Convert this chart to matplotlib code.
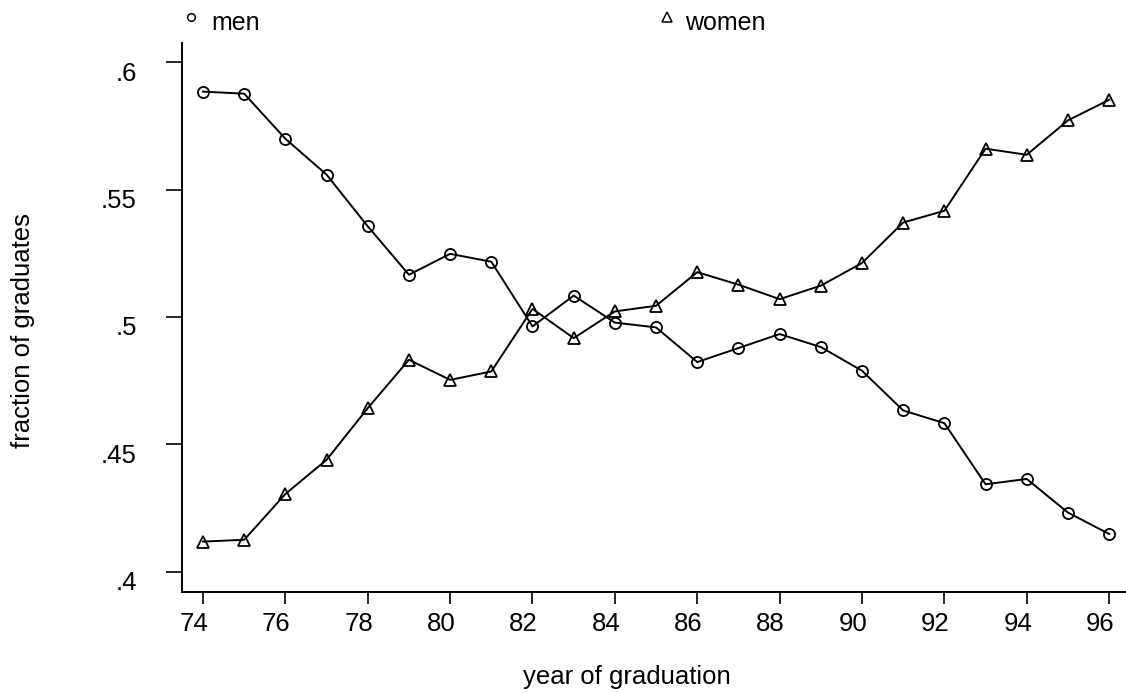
import matplotlib
matplotlib.use("Agg")
import matplotlib.pyplot as plt
from matplotlib.lines import Line2D
from matplotlib.transforms import ScaledTranslation

plt.rcParams['font.family'] = ['Liberation Sans', 'DejaVu Sans']

years = [74, 75, 76, 77, 78, 79, 80, 81, 82, 83, 84, 85,
         86, 87, 88, 89, 90, 91, 92, 93, 94, 95, 96]
men = [0.5885, 0.5877, 0.5700, 0.5559, 0.5356, 0.5166, 0.5248, 0.5217,
       0.4963, 0.5084, 0.4978, 0.4959, 0.4823, 0.4878, 0.4933, 0.4882,
       0.4789, 0.4633, 0.4583, 0.4343, 0.4364, 0.4232, 0.4148]
women = [0.4118, 0.4125, 0.4305, 0.4439, 0.4642, 0.4832, 0.4753, 0.4786,
         0.5032, 0.4917, 0.5022, 0.5044, 0.5176, 0.5127, 0.5070, 0.5123,
         0.5212, 0.5371, 0.5417, 0.5661, 0.5637, 0.5772, 0.5853]
xticks = [74, 76, 78, 80, 82, 84, 86, 88, 90, 92, 94, 96]
yticks = [0.4, 0.45, 0.5, 0.55, 0.6]
ytick_labels = ['.4', '.45', '.5', '.55', '.6']
labels = ['men', 'women']

W, H = 1126, 693
FS = 18.5
fig = plt.figure(figsize=(W / 100, H / 100), dpi=100)
ax = fig.add_axes([182 / W, 1 - 592 / H, (1126 - 182) / W, (592 - 43) / H])

lw = 1.4
ax.plot(years, men, color='black', lw=lw, marker='o', ms=8,
        mfc='none', mec='black', mew=1.3, clip_on=False)
ax.plot(years, women, color='black', lw=lw, marker='^', ms=9,
        mfc='none', mec='black', mew=1.3, clip_on=False)

ax.set_xlim(73.49, 96.41)
ax.set_ylim(0.392, 0.6076)
for s in ['top', 'right']:
    ax.spines[s].set_visible(False)
for s in ['left', 'bottom']:
    ax.spines[s].set_linewidth(1.4)

ax.set_xticks(xticks)
ax.set_xticklabels([str(v) for v in xticks])
ax.set_yticks(yticks)
ax.set_yticklabels(ytick_labels)
ax.tick_params(axis='x', direction='out', length=8.5, width=1.2, pad=6, labelsize=FS)
ax.tick_params(axis='y', direction='out', length=11.5, width=1.2, pad=21, labelsize=FS)

dx = ScaledTranslation(-9 / 100, 0, fig.dpi_scale_trans)
for lab in ax.get_xticklabels():
    lab.set_transform(lab.get_transform() + dx)
dy = ScaledTranslation(0, -9 / 100, fig.dpi_scale_trans)
for lab in ax.get_yticklabels():
    lab.set_transform(lab.get_transform() + dy)

fig.text(627 / W, 1 - 677 / H, 'year of graduation', ha='center', va='center', fontsize=FS)
fig.text(23 / W, 1 - 330 / H, 'fraction of graduates', ha='center', va='center',
         rotation=90, fontsize=FS)

# legend (manual, top row)
fig.add_artist(Line2D([191 / W], [1 - 16.5 / H], marker='o', ms=5.5, mfc='none',
                      mec='black', mew=1.1, transform=fig.transFigure))
fig.text(211 / W, 1 - 23 / H, labels[0], ha='left', va='center', fontsize=18)
fig.add_artist(Line2D([667 / W], [1 - 17 / H], marker='^', ms=6.5, mfc='none',
                      mec='black', mew=1.1, transform=fig.transFigure))
fig.text(685 / W, 1 - 23 / H, labels[1], ha='left', va='center', fontsize=18)

fig.savefig('out.png', dpi=100)
